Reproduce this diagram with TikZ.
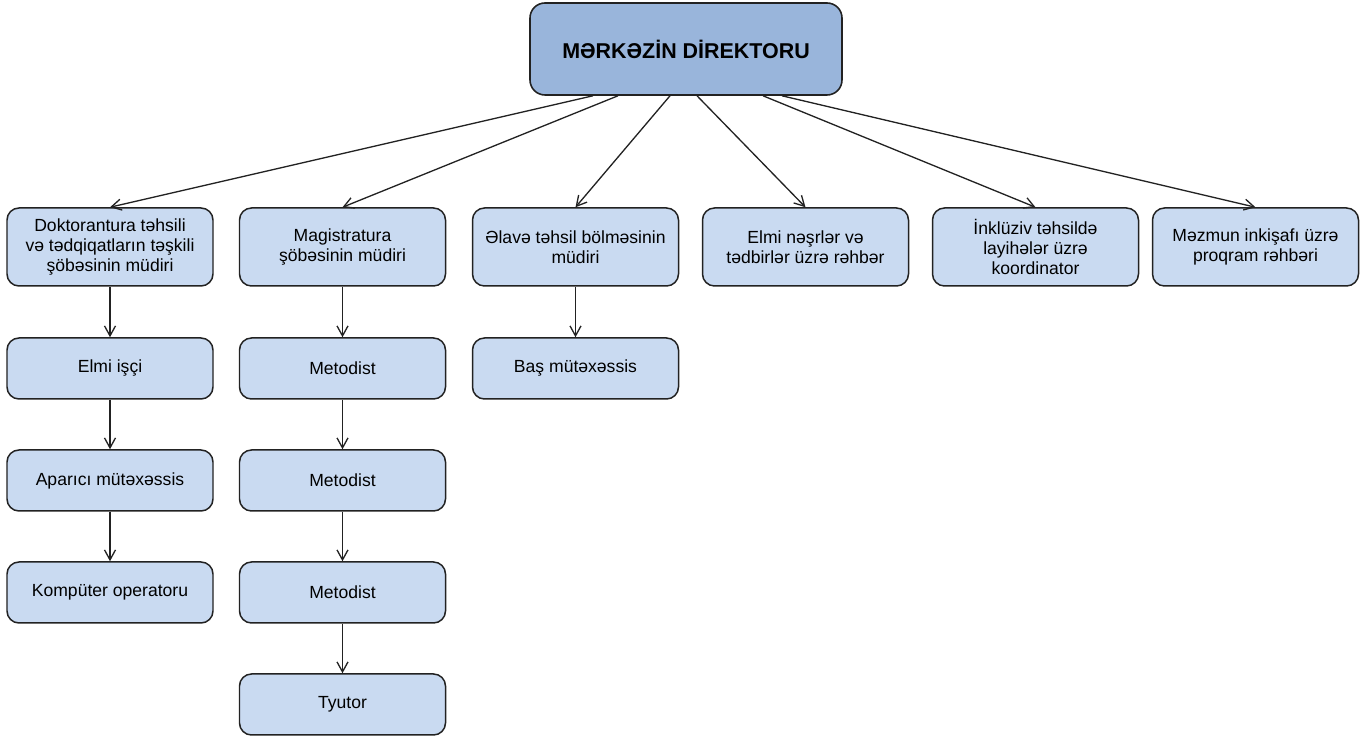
\documentclass[tikz,border=0pt]{standalone}
\usepackage{fontspec}
\setmainfont{Liberation Sans}
\usepackage{tikz}
\usetikzlibrary{arrows.meta}
\definecolor{boxfill}{HTML}{C9DAF1}
\definecolor{topfill}{HTML}{99B5DB}
\definecolor{edge}{HTML}{222222}
\tikzset{
  unit/.style={draw=edge, line width=0.85pt, fill=boxfill, rounded corners=0.24cm,
    minimum width=4.12cm, minimum height=1.22cm, align=center,
    font=\fontsize{10}{11.5}\selectfont, inner sep=0pt},
  head/.style={unit, minimum height=1.56cm},
  chief/.style={draw=edge, line width=0.9pt, fill=topfill, rounded corners=0.3cm,
    minimum width=6.24cm, minimum height=1.84cm, font=\fontsize{12.2}{14}\selectfont\bfseries}
}
\begin{document}
\begin{tikzpicture}[>={Straight Barb[length=2mm,width=2.2mm]}, line width=0.75pt]
\useasboundingbox (0,0) rectangle (27.38,14.72);

\node[chief] (D) at (13.72,13.74) {MƏRKƏZİN DİREKTORU};

\node[head] (dok) at (2.2,9.78) {Doktorantura təhsili\\və tədqiqatların təşkili\\şöbəsinin müdiri};
\node[head] (mag) at (6.85,9.78) {Magistratura\\şöbəsinin müdiri};
\node[head] (ela) at (11.51,9.78) {Əlavə təhsil bölməsinin\\müdiri};
\node[head] (nes) at (16.11,9.78) {Elmi nəşrlər və\\tədbirlər üzrə rəhbər};
\node[head] (ink) at (20.71,9.78) {İnklüziv təhsildə\\layihələr üzrə\\koordinator};
\node[head] (mez) at (25.11,9.78) {Məzmun inkişafı üzrə\\proqram rəhbəri};

\node[unit] (elmi) at (2.2,7.35) {Elmi işçi};
\node[unit] (apar) at (2.2,5.11) {Aparıcı mütəxəssis};
\node[unit] (komp) at (2.2,2.87) {Kompüter operatoru};

\node[unit] (met1) at (6.85,7.35) {Metodist};
\node[unit] (met2) at (6.85,5.11) {Metodist};
\node[unit] (met3) at (6.85,2.87) {Metodist};
\node[unit] (tyu) at (6.85,0.63) {Tyutor};

\node[unit] (bas) at (11.51,7.35) {Baş mütəxəssis};

\draw[->, edge] ([xshift=-1.86cm]D.south) -- (dok.north);
\draw[->, edge] ([xshift=-1.36cm]D.south) -- (mag.north);
\draw[->, edge] ([xshift=-0.32cm]D.south) -- (ela.north);
\draw[->, edge] ([xshift=0.22cm]D.south) -- (nes.north);
\draw[->, edge] ([xshift=1.54cm]D.south) -- (ink.north);
\draw[->, edge] ([xshift=1.92cm]D.south) -- (mez.north);

\draw[->, edge] (dok) -- (elmi);
\draw[->, edge] (elmi) -- (apar);
\draw[->, edge] (apar) -- (komp);
\draw[->, edge] (mag) -- (met1);
\draw[->, edge] (met1) -- (met2);
\draw[->, edge] (met2) -- (met3);
\draw[->, edge] (met3) -- (tyu);
\draw[->, edge] (ela) -- (bas);
\end{tikzpicture}
\end{document}
